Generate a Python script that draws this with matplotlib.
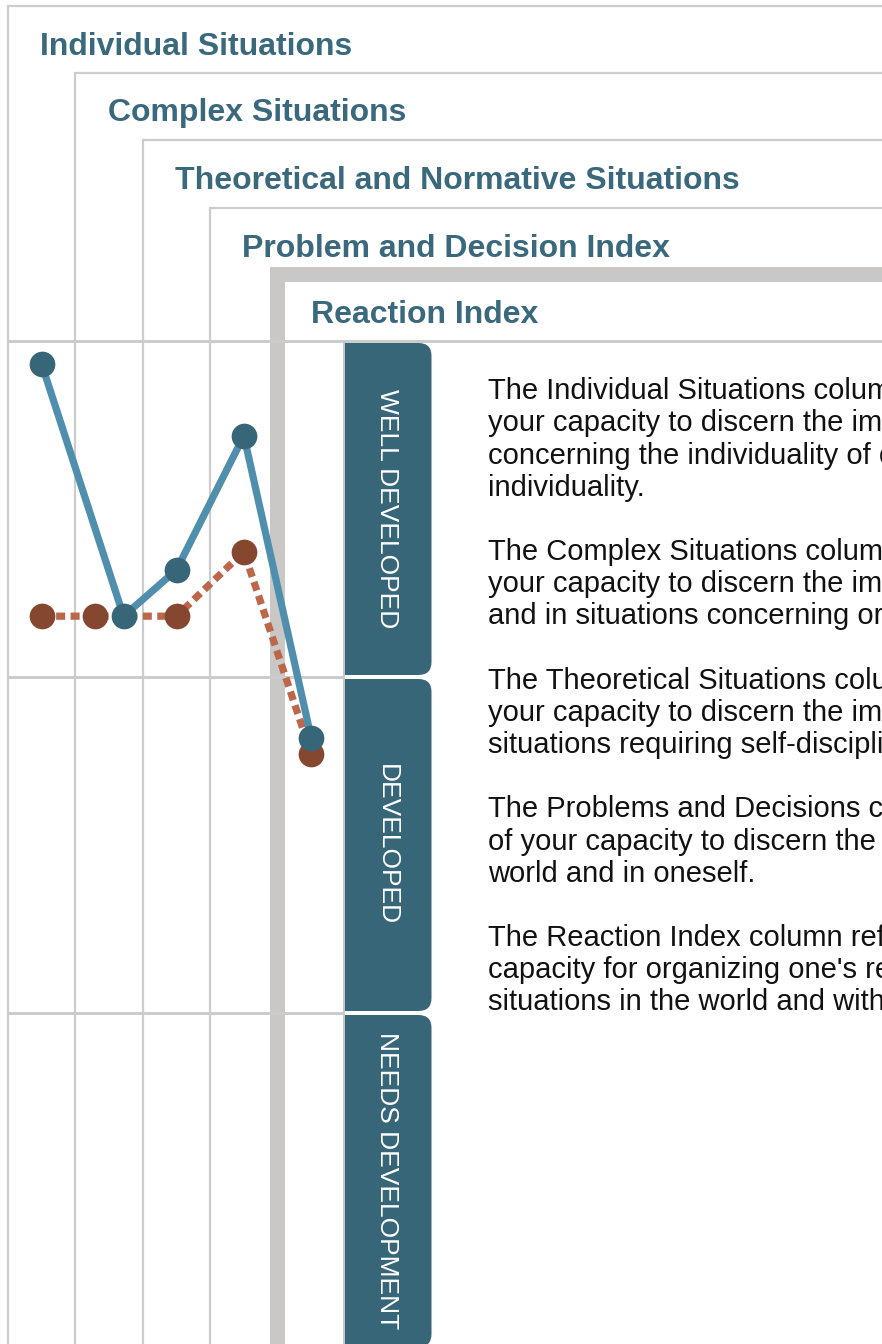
import numpy as np
import matplotlib
matplotlib.use("Agg")
import matplotlib.pyplot as plt
from matplotlib.patches import FancyBboxPatch, Rectangle

plt.rcParams['font.family'] = ['Liberation Sans', 'DejaVu Sans']

# nested column headers, outermost first
columns = ['Individual Situations', 'Complex Situations',
           'Theoretical and Normative Situations', 'Problem and Decision Index',
           'Reaction Index']
levels = ['WELL DEVELOPED', 'DEVELOPED', 'NEEDS DEVELOPMENT']
level_edges = [100, 200 / 3, 100 / 3, 0]

# scores on a 0-100 scale, one per column
scores_main = [97.7, 72.7, 77.3, 90.6, 60.6]
scores_ref = [72.7, 72.7, 72.7, 79.1, 59.0]

notes = [
    "The Individual Situations column reflects the level of",
    "your capacity to discern the importance of situations",
    "concerning the individuality of others and of one's own",
    "individuality.",
    "",
    "The Complex Situations column reflects the level of",
    "your capacity to discern the importance of the world",
    "and in situations concerning organizations.",
    "",
    "The Theoretical Situations column reflects the level of",
    "your capacity to discern the importance of rules and",
    "situations requiring self-discipline.",
    "",
    "The Problems and Decisions column reflects the level",
    "of your capacity to discern the problems in the",
    "world and in oneself.",
    "",
    "The Reaction Index column reflects the level of your",
    "capacity for organizing one's reactions to",
    "situations in the world and within oneself.",
]

W, H = 882, 1344
GRID = '#cccccc'
THICK = '#c9c8c6'
TEAL = '#386679'
TITLE = '#3a687d'
PT = 0.72  # points per pixel at dpi 100

fig = plt.figure(figsize=(W / 100, H / 100), dpi=100)
bg = fig.add_axes([0, 0, 1, 1])
bg.set_xlim(0, W)
bg.set_ylim(H, 0)
bg.axis('off')

# chart area: top at 341 px, 1008 px for the 0-100 range
def y_px(v):
    return 1349 - v * 10.08

# nested header frames
lefts = [8, 75, 142.5, 209.5]
tops = [5.5, 72.5, 140, 207.5]
for lx, ty in zip(lefts, tops):
    bg.plot([lx, lx, W], [H, ty, ty], color=GRID, lw=2.2 * PT,
            solid_capstyle='projecting', solid_joinstyle='miter')
bg.add_patch(Rectangle((269.5, 266.5), 15, H, color=THICK, lw=0))
bg.add_patch(Rectangle((269.5, 266.5), W, 15, color=THICK, lw=0))
bg.plot([8, W], [341, 341], color=GRID, lw=3 * PT)

title_x = lefts + [278.5]
baselines = [55, 121, 189, 257, 323]
for tx, by, name in zip(title_x, baselines, columns):
    bg.text(tx + 32.5, by, name, fontsize=23, fontweight='bold',
            color=TITLE, va='baseline', ha='left')

# level tabs
bg.plot([344, 344], [341, H], color='#c3c7c9', lw=2 * PT)
for i, lab in enumerate(levels):
    top = y_px(level_edges[i]) + 2
    bot = y_px(level_edges[i + 1]) - 2
    bg.add_patch(FancyBboxPatch((345, top), 86.5, bot - top,
                                boxstyle='round,pad=0,rounding_size=13',
                                fc=TEAL, ec='none'))
    bg.add_patch(Rectangle((345, top), 20, bot - top, fc=TEAL, ec='none'))
    bg.text(380, (top + bot) / 2, lab, rotation=-90, rotation_mode='anchor',
            ha='center', va='baseline', color='white', fontsize=19)

# explanatory text
for k, line in enumerate(notes):
    if line:
        bg.text(488, 399.3 + k * 32.16, line, fontsize=21, color='#111111',
                va='baseline', ha='left', clip_on=True)

# data axes
ax = fig.add_axes([8 / W, 1 - 1349 / H, 337 / W, 1008 / H])
ax.set_xlim(-0.5, 4.5)
ax.set_ylim(0, 100)
ax.axis('off')
for e in level_edges[1:3]:
    ax.axhline(e, color=GRID, lw=3 * PT, zorder=1)

main = np.array(scores_main)
ref = np.array(scores_ref)
x = np.arange(len(columns), dtype=float)
tie = np.isclose(main, ref)
x_main = x + np.where(tie, 0.215, 0)
x_ref = x - np.where(tie, 0.215, 0)

ax.plot(x_ref, ref, color='#bc6749', lw=5.2, dashes=(1.25, 0.75),
        dash_capstyle='butt', clip_on=False, zorder=2)
ax.plot(x_ref, ref, 'o', ms=18.5, color='#864731', mec='none',
        clip_on=False, zorder=3)
ax.plot(x_main, main, color='#4f8fad', lw=5.2, clip_on=False, zorder=4)
ax.plot(x_main, main, 'o', ms=18.5, color=TEAL, mec='none',
        clip_on=False, zorder=5)

fig.savefig('out.png', dpi=100)
